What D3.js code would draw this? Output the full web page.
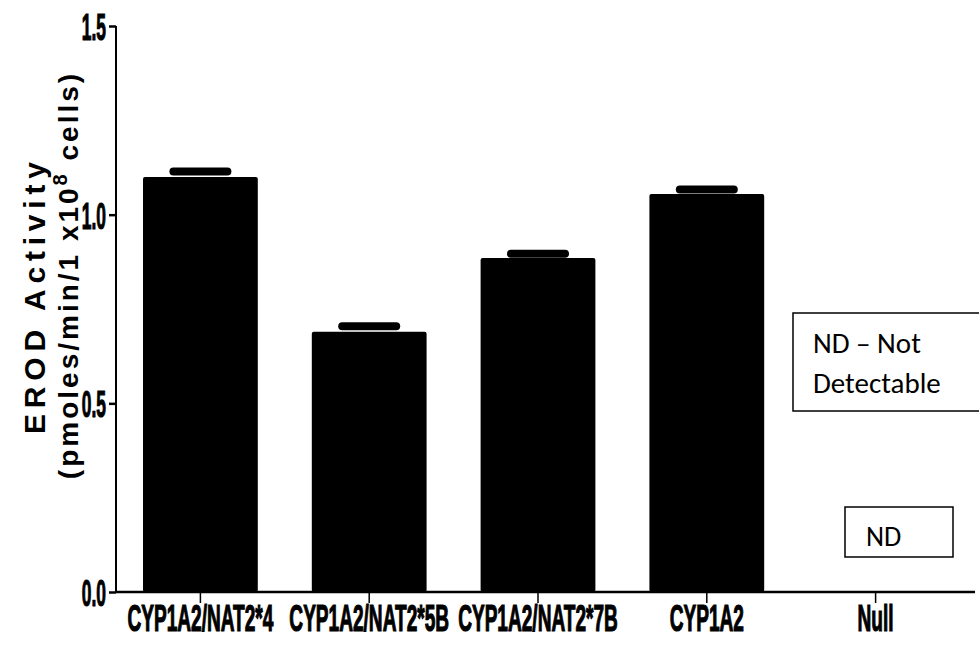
<!DOCTYPE html>
<html><head><meta charset="utf-8">
<script src="https://cdn.jsdelivr.net/npm/d3@7"></script>
<style>body{margin:0;background:#fff}</style>
</head><body><svg id="c" width="979" height="651"></svg>
<script>
const categories = ["CYP1A2/NAT2*4","CYP1A2/NAT2*5B","CYP1A2/NAT2*7B","CYP1A2","Null"];
const values = [1.10, 0.69, 0.885, 1.055, 0];
const errors = [0.025, 0.025, 0.022, 0.022, 0];
const yTicks = [0.0, 0.5, 1.0, 1.5];

(function(){
const svg = d3.select("#c");
const mLeft = 116, mTop = 26, mBottom = 592, mRight = 960;
const x = d3.scaleBand().domain(categories).range([mLeft, mRight]).paddingInner(0.32).paddingOuter(0.16);
const y = d3.scaleLinear().domain([0, 1.5]).range([mBottom, mTop]);

const font = "'Liberation Sans',Arial,sans-serif";

svg.selectAll("rect.bar").data(categories).join("rect")
  .attr("x", d => x(d)).attr("width", x.bandwidth())
  .attr("y", (d,i) => y(values[i])).attr("height", (d,i) => y(0) - y(values[i]))
  .attr("rx", 2).attr("fill", "#000");

const errData = categories.map((c,i)=>({c, v: values[i], e: errors[i]})).filter(d=>d.e>0);
svg.selectAll("line.err").data(errData).join("line")
  .attr("x1", d => x(d.c) + x.bandwidth()/2 - 27)
  .attr("x2", d => x(d.c) + x.bandwidth()/2 + 27)
  .attr("y1", d => y(d.v + d.e) + 4)
  .attr("y2", d => y(d.v + d.e) + 4)
  .attr("stroke", "#000").attr("stroke-width", 8).attr("stroke-linecap", "round");

const ya = svg.append("g").attr("transform", `translate(${mLeft},0)`)
  .call(d3.axisLeft(y).tickValues(yTicks).tickFormat(d3.format(".1f")).tickSize(7).tickSizeOuter(0));
ya.select(".domain").attr("stroke-width", 2).attr("d", `M0,${y(1.5)}V${mBottom}`);
ya.selectAll(".tick line").attr("stroke-width", 2.5);
ya.selectAll(".tick text").attr("font-family", font).attr("font-weight", "bold")
  .attr("font-size", 37).attr("fill", "#000").attr("stroke", "#000").attr("stroke-width", 1.2)
  .attr("x", 0).attr("dy", "0.36em").attr("text-anchor", "end")
  .attr("transform", "translate(-10,0) scale(0.47,1)");

const xa = svg.append("g").attr("transform", `translate(0,${mBottom})`)
  .call(d3.axisBottom(x).tickSize(11).tickSizeOuter(0));
xa.select(".domain").attr("stroke-width", 2.5).attr("d", `M${mLeft},0H975`);
xa.selectAll(".tick line").attr("stroke-width", 1.5);
xa.selectAll(".tick text").attr("font-family", font).attr("font-weight", "bold")
  .attr("font-size", 36).attr("fill", "#000").attr("stroke", "#000").attr("stroke-width", 1.2)
  .attr("y", 0).attr("dy", 0)
  .attr("transform", "translate(0,39) scale(0.53,1)");

svg.append("text").attr("transform", "translate(45,298) rotate(-90)")
  .attr("text-anchor", "middle").attr("font-family", font)
  .attr("font-weight", "bold").attr("font-size", 30)
  .attr("textLength", 272).attr("lengthAdjust", "spacing").text("EROD Activity");
const t2 = svg.append("text").attr("transform", "translate(78,275) rotate(-90)")
  .attr("text-anchor", "middle").attr("font-family", font)
  .attr("font-weight", "bold").attr("font-size", 28).attr("letter-spacing", 3);
t2.append("tspan").text("(pmoles/min/1 x10");
t2.append("tspan").attr("baseline-shift", "super").attr("font-size", 20).text("8");
t2.append("tspan").text(" cells)");

const ann = "Carlito,Calibri,'Open Sans',sans-serif";
svg.append("rect").attr("x", 793).attr("y", 313).attr("width", 190).attr("height", 98)
  .attr("fill", "#fff").attr("stroke", "#000").attr("stroke-width", 1.5);
svg.append("text").attr("x", 813).attr("y", 353).attr("font-family", ann).attr("font-size", 29).text("ND – Not");
svg.append("text").attr("x", 813).attr("y", 393).attr("font-family", ann).attr("font-size", 29).text("Detectable");
svg.append("rect").attr("x", 845).attr("y", 507).attr("width", 108).attr("height", 50)
  .attr("fill", "#fff").attr("stroke", "#000").attr("stroke-width", 1.5);
svg.append("text").attr("x", 866).attr("y", 546).attr("font-family", ann).attr("font-size", 28).text("ND");
})();
</script></body></html>
